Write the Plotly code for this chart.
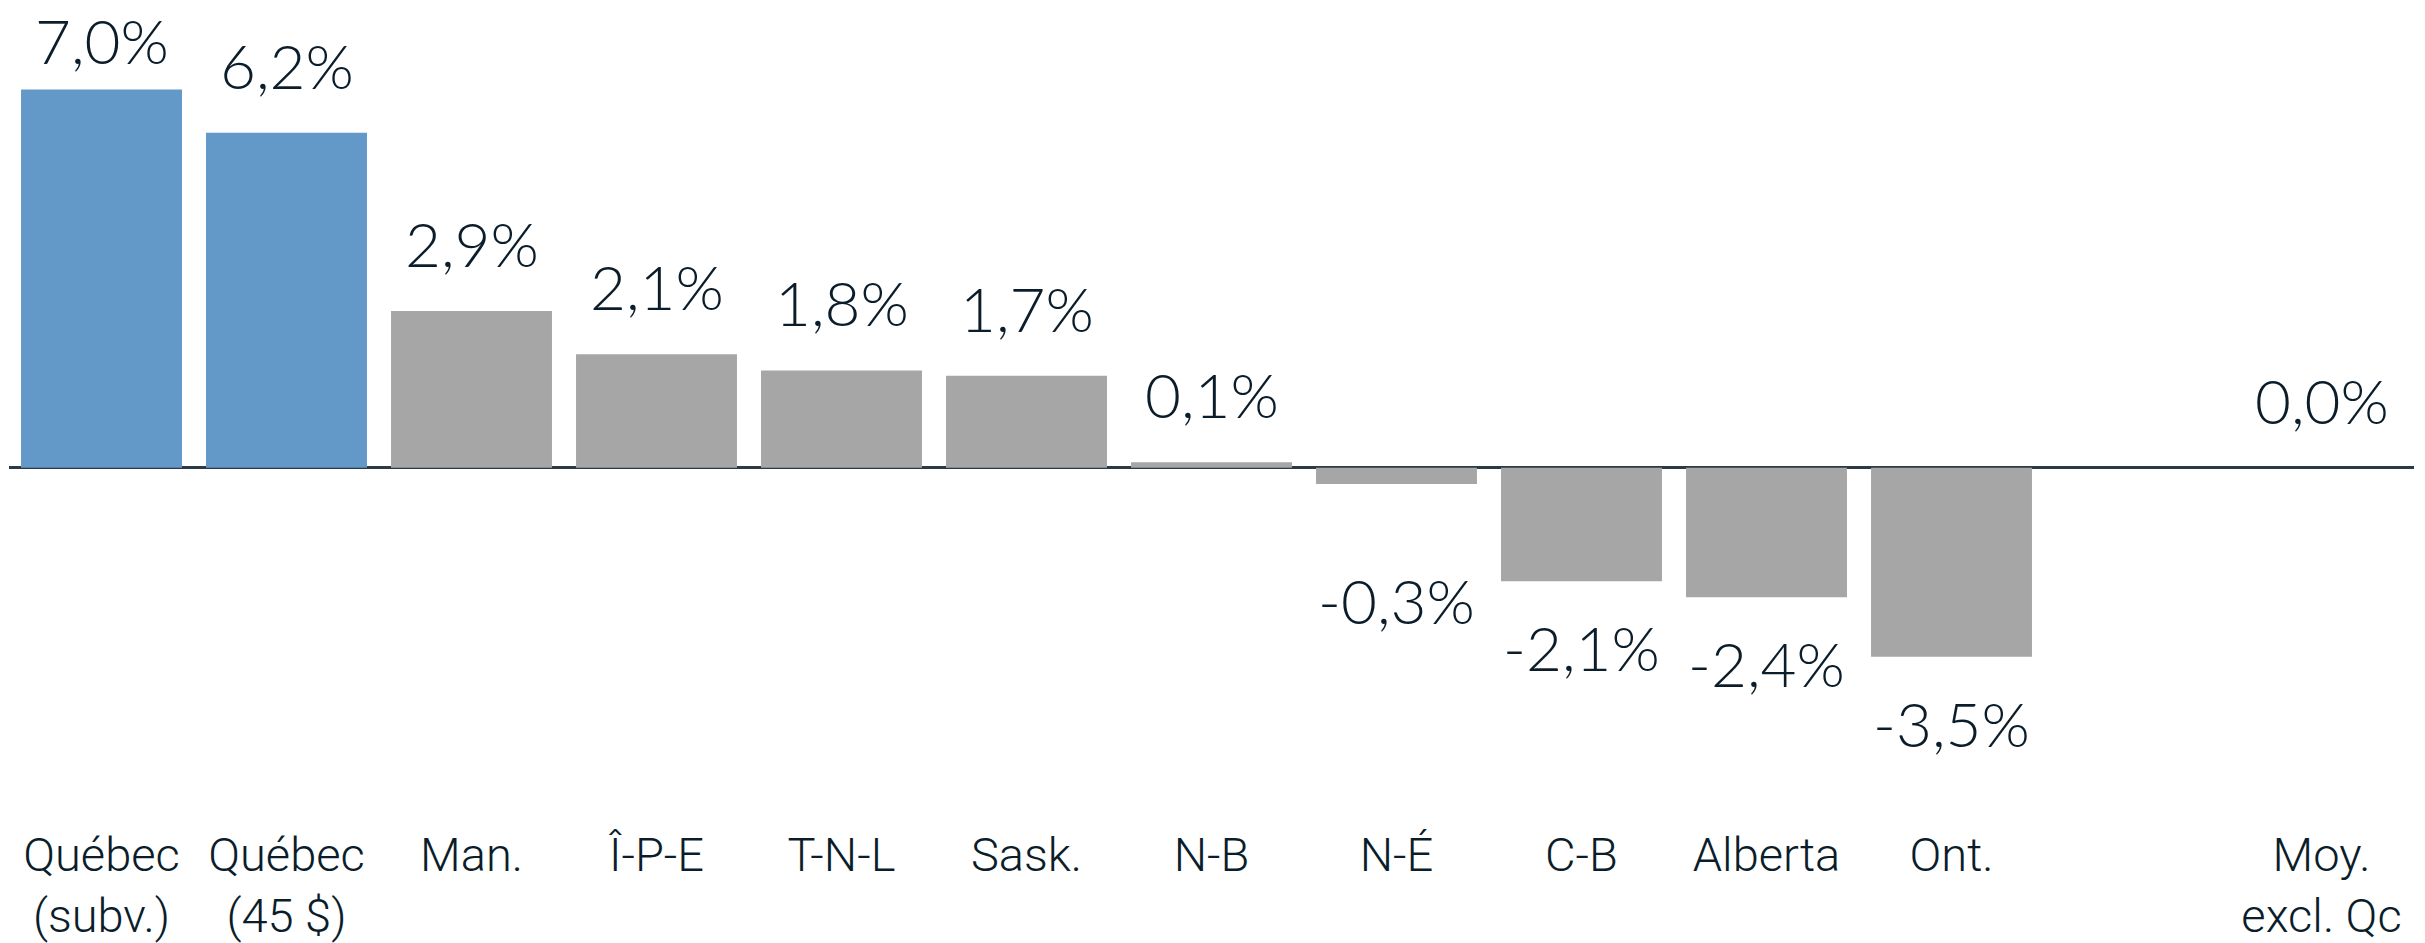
import plotly.graph_objects as go

categories = ["Québec<br>(subv.)", "Québec<br>(45 $)", "Man.", "Î-P-E", "T-N-L", "Sask.",
              "N-B", "N-É", "C-B", "Alberta", "Ont.", "Moy.<br>excl. Qc"]
values = [7.0, 6.2, 2.9, 2.1, 1.8, 1.7, 0.1, -0.3, -2.1, -2.4, -3.5, 0.0]
labels = ["7,0%", "6,2%", "2,9%", "2,1%", "1,8%", "1,7%", "0,1%", "-0,3%", "-2,1%", "-2,4%", "-3,5%", "0,0%"]
highlight = [True, True] + [False] * 10
# slot positions: an empty slot separates the average from the provinces
positions = [0, 1, 2, 3, 4, 5, 6, 7, 8, 9, 10, 12]

BLUE = "#6399C8"
GRAY = "#A6A6A6"
TEXT = "#0B1D2A"

W, H = 2425, 943
top, bottom = 0, 800
ymax, ymin = 8.656, -6.077
pxper = (bottom - top) / (ymax - ymin)
VFONT = dict(size=62, color=TEXT, family="Lato", weight=300)

fig = go.Figure()
fig.add_trace(go.Bar(
    x=positions, y=values, width=0.87,
    marker=dict(color=[BLUE if h else GRAY for h in highlight], line=dict(width=0)),
    hoverinfo="skip",
))

for xp, v, lab in zip(positions, values, labels):
    if v >= 0:
        bar_px = v * pxper
        limit = (ymax * pxper) - 79
        shift = min(29, limit - bar_px)
        fig.add_annotation(x=xp, y=v, text=lab, showarrow=False, yanchor="bottom",
                           yshift=shift, font=VFONT)
    else:
        bar_px = -v * pxper
        extra = max(0, 66 - bar_px)
        fig.add_annotation(x=xp, y=v, text=lab, showarrow=False, yanchor="top",
                           yshift=-27 - extra, font=VFONT)

fig.update_layout(
    width=W, height=H,
    margin=dict(l=9, r=11, t=top, b=H - bottom, pad=0),
    paper_bgcolor="white", plot_bgcolor="white",
    showlegend=False,
    bargap=0.13,
    xaxis=dict(range=[-0.5, 12.5], tickvals=positions, ticktext=categories,
               showgrid=False, zeroline=False, showline=False, ticks="",
               ticklabelstandoff=27,
               tickfont=dict(size=47, color=TEXT, family="Roboto", weight=300),
               fixedrange=True),
    yaxis=dict(range=[ymin, ymax], showgrid=False, showticklabels=False,
               zeroline=True, zerolinecolor="#2B3A44", zerolinewidth=2.5,
               showline=False, ticks="", fixedrange=True),
)

fig.write_html("out.html", config={"displayModeBar": False},
               post_script="document.body.style.margin='0';document.body.style.overflow='hidden';")
